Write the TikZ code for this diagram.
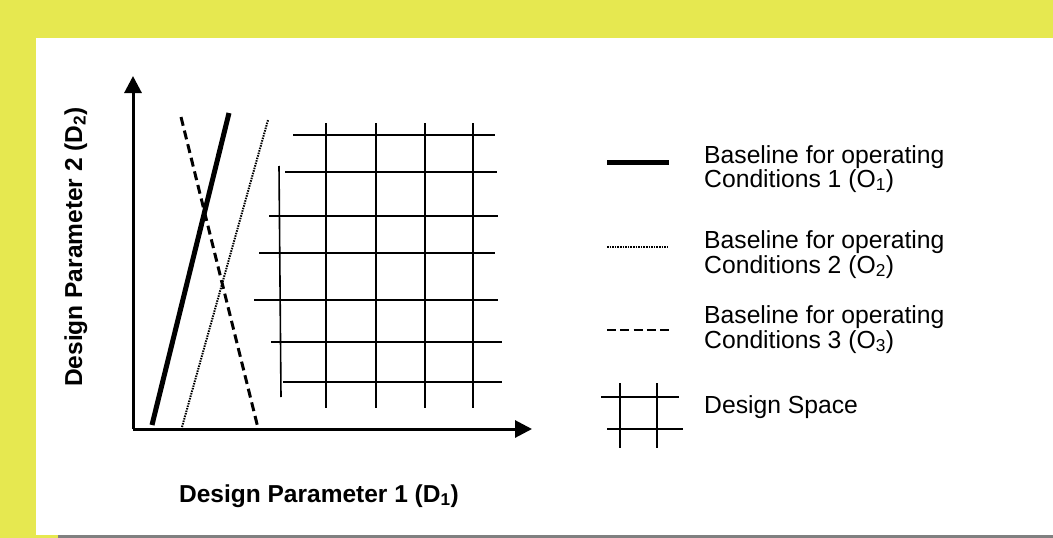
\documentclass[tikz,border=0pt]{standalone}
\usepackage{fontspec}
\setmainfont{Liberation Sans}
\usetikzlibrary{arrows.meta}
\definecolor{bandyellow}{RGB}{230,232,80}
\definecolor{shadowgray}{RGB}{128,128,128}
\tikzset{
  axisline/.style={line width=3pt, -{Triangle[length=17pt,width=17pt]}},
  solidbase/.style={line width=5pt},
  dottedbase/.style={line width=2pt, dash pattern=on 1.5pt off 1.1pt},
  dashedbase/.style={line width=3pt, dash pattern=on 9pt off 5pt},
  gridline/.style={line width=1.6pt},
  legendtext/.style={anchor=base west, inner sep=0pt, font=\fontsize{24.7}{24}\selectfont},
  axislabel/.style={anchor=base, inner sep=0pt, font=\fontsize{24.5}{24}\selectfont\bfseries}
}
\begin{document}
\begin{tikzpicture}[x=1pt,y=-1pt]
\useasboundingbox (0,0) rectangle (1053,538);
% frame
\fill[bandyellow] (0,0) rectangle (1053,538);
\fill[white] (36,38) rectangle (1053,535);
\fill[shadowgray] (58,535) rectangle (1053,538);

% axes
\coordinate (origin) at (133,429);
\coordinate (ytip) at (133,76);
\coordinate (xtip) at (532,429);
\draw[axisline] (origin) -- (ytip);
\draw[axisline] (origin) -- (xtip);

% baselines
\coordinate (s1) at (152,425); \coordinate (s2) at (229,113);
\coordinate (d1) at (182,427); \coordinate (d2) at (268,120);
\coordinate (h1) at (181,117); \coordinate (h2) at (258,428);
\draw[solidbase] (s1) -- (s2);
\draw[dottedbase] (d1) -- (d2);
\draw[dashedbase] (h1) -- (h2);

% design space grid
\foreach \x in {326,376,425,473} \draw[gridline] (\x,123) -- (\x,408);
\draw[gridline] (279,166) -- (281,397);
\foreach \y/\a/\b in {135/293/495, 172/285/497, 216/269/498, 253/259/495, 300/254/498, 342/271/502, 382/283/502}
  \draw[gridline] (\a,\y) -- (\b,\y);

% axis labels
\node[axislabel] (xlabel) at (319,502) {Design Parameter 1 (D\textsubscript{1})};
\node[axislabel, rotate=90] (ylabel) at (82,247) {Design Parameter 2 (D\textsubscript{2})};

% legend
\coordinate (la) at (607,162); \coordinate (lb) at (669,162);
\draw[solidbase] (la) -- (lb);
\node[legendtext] (t1a) at (704,163) {Baseline for operating};
\node[legendtext] (t1b) at (704,187) {Conditions 1 (O\textsubscript{1})};

\coordinate (lc) at (607,247); \coordinate (ld) at (669,247);
\draw[dottedbase] (lc) -- (ld);
\node[legendtext] (t2a) at (704,248) {Baseline for operating};
\node[legendtext] (t2b) at (704,273) {Conditions 2 (O\textsubscript{2})};

\coordinate (le) at (607,330); \coordinate (lf) at (669,330);
\draw[line width=2.5pt, dash pattern=on 9pt off 4.25pt] (le) -- (lf);
\node[legendtext] (t3a) at (704,323) {Baseline for operating};
\node[legendtext] (t3b) at (704,348) {Conditions 3 (O\textsubscript{3})};

\draw[gridline] (620,383) -- (620,448);
\draw[gridline] (657,383) -- (657,448);
\draw[gridline] (601,397) -- (679,397);
\draw[gridline] (607,429) -- (683,429);
\node[legendtext] (t4) at (704,413) {Design Space};
\end{tikzpicture}
\end{document}
